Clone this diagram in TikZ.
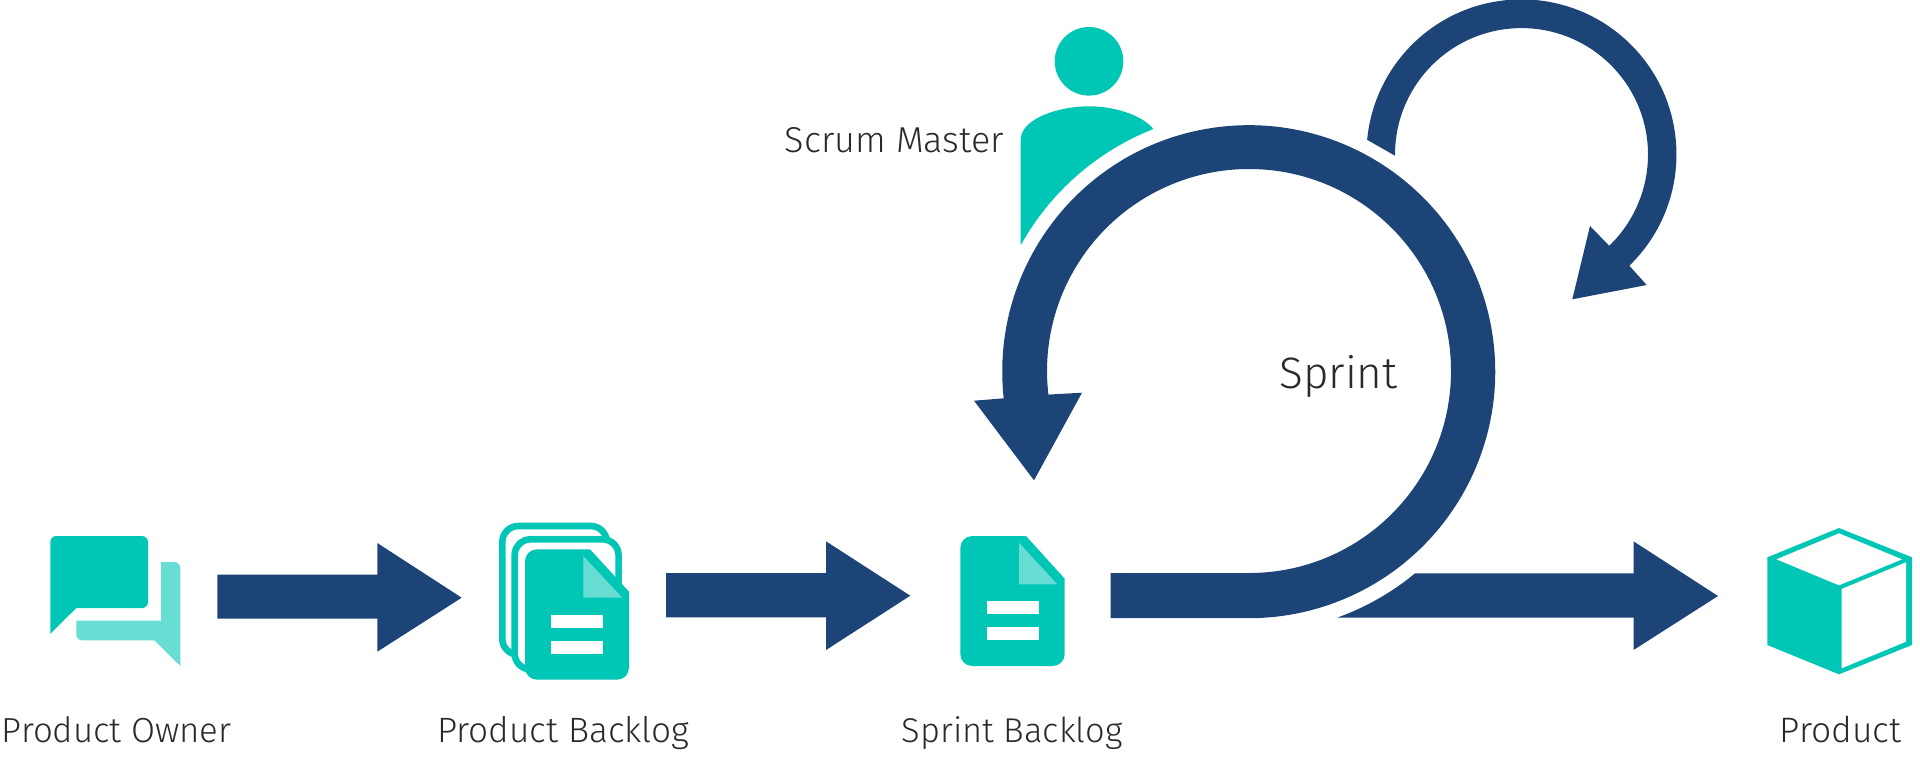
\documentclass[tikz,border=0pt]{standalone}
\usepackage{fontspec}
\setmainfont{Fira Sans Light}
\definecolor{teal}{HTML}{00C7B5}
\definecolor{paleteal}{HTML}{67DDD3}
\definecolor{navy}{HTML}{1C4477}
\definecolor{ink}{HTML}{2A2A2A}
\newcommand{\labelsize}[1]{\fontsize{#1}{24}\selectfont}
\tikzset{
  label text/.style={anchor=base west,inner sep=0pt,text=ink},
  band/.style={fill=navy},
  solid teal/.style={fill=teal},
  pale teal/.style={fill=paleteal},
  sheet/.style={draw=teal,line width=3.3pt,fill=white,rounded corners=8pt},
  white bar/.style={fill=white}
}
\begin{document}
\begin{tikzpicture}[x=0.5pt,y=-0.5pt]
\useasboundingbox (0,0) rectangle (1920,767);
% chat bubbles
\fill[pale teal] (161,620.7) -- (161,562) -- (174.3,562) arc[start angle=270,end angle=360,radius=6] -- (180.3,666) -- (154.3,640.3) -- (82.3,640.3) arc[start angle=90,end angle=180,radius=6] -- (76.3,620.7) -- cycle;
\fill[solid teal] (50.3,542) arc[start angle=180,end angle=270,radius=6] -- (142,536) arc[start angle=270,end angle=360,radius=6] -- (148,602) arc[start angle=0,end angle=90,radius=6] -- (76.3,608) -- (50.3,633.7) -- cycle;
% backlog stack
\draw[sheet] (502.3,654.7) rectangle (606.7,526);
\draw[sheet] (514.6,669.4) rectangle (618.6,539.3);
\fill[solid teal] (525,561.3) arc[start angle=180,end angle=270,radius=12] -- (590,549.3) -- (629,591.7) -- (629,667.7) arc[start angle=0,end angle=90,radius=12] -- (537,679.7) arc[start angle=90,end angle=180,radius=12] -- cycle;
\fill[pale teal] (583.3,556) -- (583.3,597.7) -- (622.3,597.7) -- cycle;
\fill[white bar] (551,615) rectangle (603,627.7);
\fill[white bar] (551,641) rectangle (603,653.7);
% sprint backlog page
\fill[solid teal] (960.3,548) arc[start angle=180,end angle=270,radius=12] -- (1026,536) -- (1064.7,578.7) -- (1064.7,654) arc[start angle=0,end angle=90,radius=12] -- (972.3,666) arc[start angle=90,end angle=180,radius=12] -- cycle;
\fill[pale teal] (1019,542.7) -- (1019,584.3) -- (1057.3,584.3) -- cycle;
\fill[white bar] (986.7,601.3) rectangle (1038.7,614);
\fill[white bar] (986.7,627.3) rectangle (1038.7,640);
% product cube
\fill[solid teal] (1839,528) -- (1912,557.3) -- (1912,645) -- (1839,674.3) -- (1767.3,645) -- (1767.3,557.3) -- cycle;
\fill[white] (1776.4,559.3) -- (1839,533.3) -- (1902,559.3) -- (1839,585.3) -- cycle;
\fill[white] (1841.5,589) -- (1906,562.3) -- (1906,641.7) -- (1841.5,668.3) -- cycle;
% scrum master figure
\fill[solid teal] (1089,61.3) circle[radius=34.3];
\fill[solid teal] (1020.7,244.3) -- (1020.7,140) .. controls (1020.7,118) and (1060,106.3) .. (1088.3,106.3) .. controls (1120,106.3) and (1145,118) .. (1153.3,129) arc[start angle=-111.5,end angle=-150.9,radius=261] -- cycle;
% straight arrows
\fill[band] (217.3,574.7) -- (377.3,574.7) -- (377.3,543) -- (461.7,597.7) -- (377.3,651.7) -- (377.3,618.7) -- (217.3,618.7) -- cycle;
\fill[band] (666,573) -- (826,573) -- (826,541.3) -- (910.3,595.7) -- (826,650) -- (826,617.3) -- (666,617.3) -- cycle;
\fill[band] (1414.5,573.3) -- (1633.5,573.3) -- (1633.5,541.3) -- (1718,596) -- (1633.5,650) -- (1633.5,617.7) -- (1337,617.7) arc[start angle=70.3,end angle=50.6,radius=261] -- cycle;
% sprint loop
\fill[band] (1110.6,573) -- (1249,573) arc[start angle=90,end angle=-186.7,radius=202] -- (1082,392.7) -- (1034,480.3) -- (974,400.7) -- (1003.7,398.3) arc[start angle=-186.2,end angle=90,radius=246.5] -- (1110.6,618) -- cycle;
% daily loop
\fill[band] (1395,155.7) arc[start angle=179.5,end angle=406.1,radius=126.5] -- (1590,226) -- (1572.3,299.3) -- (1646.7,285) -- (1629.3,265.7) arc[start angle=45.9,end angle=-174.6,radius=155] -- cycle;
% labels
\node[label text,font=\labelsize{17.4}] (owner) at (1.5,742.7) {Product Owner};
\node[label text,font=\labelsize{17.6}] (backlog) at (437,742.7) {Product Backlog};
\node[label text,font=\labelsize{17.2}] (sprintbacklog) at (901.5,742.7) {Sprint Backlog};
\node[label text,font=\labelsize{17.7}] (product) at (1779.5,742.7) {Product};
\node[label text,font=\labelsize{18}] (master) at (784.5,152.7) {Scrum Master};
\node[label text,font=\labelsize{22}] (sprint) at (1279,388.7) {Sprint};
\end{tikzpicture}
\end{document}
